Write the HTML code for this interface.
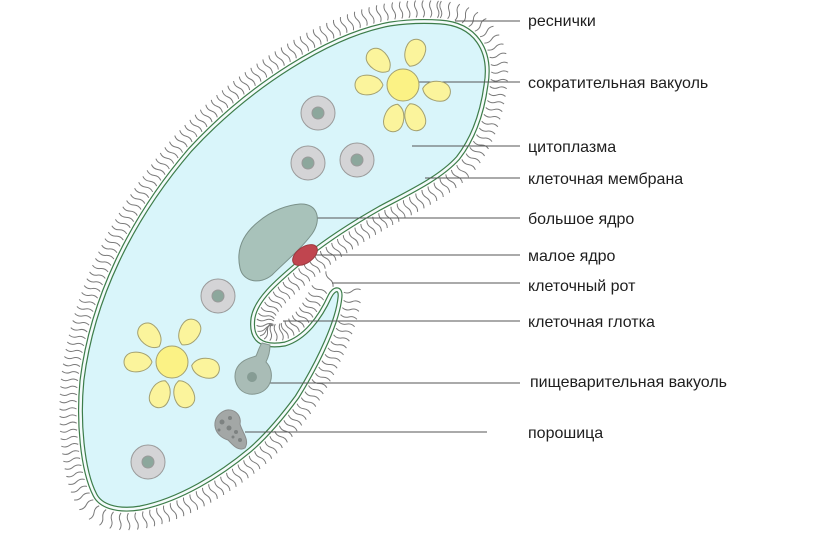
<!DOCTYPE html>
<html><head><meta charset="utf-8"><style>
html,body{margin:0;padding:0;background:#fff;}
svg{display:block}
text{font-family:"Liberation Sans",sans-serif;font-size:16px;fill:#1e1e1e}
</style></head><body>
<svg id="s" width="826" height="546" viewBox="0 0 826 546">
<g id="cil" stroke="#7a7a7a" stroke-width="1" fill="none"></g>
<path id="body" d="M 440,22 C 475,24 492,50 486,85 C 482,115 472,140 458,158 C 440,178 410,192 380,208 C 350,225 320,245 300,262 C 275,283 256,300 253,318 C 250,340 262,348 285,344 C 305,338 320,318 330,296 C 334,288 341,287 340,297 C 338,320 320,360 297,397 C 280,420 265,437 250,450 C 220,475 180,500 140,508 C 115,512 100,505 95,495 C 82,470 78,420 82,380 C 92,300 130,220 190,150 C 250,85 330,35 390,24 C 410,21 425,21 440,22 Z" fill="#d9f5fa" stroke="#3d7d4a" stroke-width="5"/>
<path d="M 440,22 C 475,24 492,50 486,85 C 482,115 472,140 458,158 C 440,178 410,192 380,208 C 350,225 320,245 300,262 C 275,283 256,300 253,318 C 250,340 262,348 285,344 C 305,338 320,318 330,296 C 334,288 341,287 340,297 C 338,320 320,360 297,397 C 280,420 265,437 250,450 C 220,475 180,500 140,508 C 115,512 100,505 95,495 C 82,470 78,420 82,380 C 92,300 130,220 190,150 C 250,85 330,35 390,24 C 410,21 425,21 440,22 Z" fill="none" stroke="#f4fbfb" stroke-width="2.6"/>
<g stroke="#555" stroke-width="1">
<line x1="455" y1="21" x2="520" y2="21"/>
<line x1="415" y1="82" x2="520" y2="82"/>
<line x1="412" y1="146" x2="520" y2="146"/>
<line x1="425" y1="178" x2="520" y2="178"/>
<line x1="315" y1="218" x2="520" y2="218"/>
<line x1="312" y1="255" x2="520" y2="255"/>
<line x1="332" y1="283" x2="520" y2="283"/>
<line x1="283" y1="321" x2="520" y2="321"/>
<line x1="265" y1="383" x2="520" y2="383"/>
<line x1="245" y1="432" x2="487" y2="432"/>
</g>
<g stroke="#9a9a9a" stroke-width="1">
<circle cx="318" cy="113" r="17" fill="#d4d4d6"/><circle cx="318" cy="113" r="6" fill="#8ca79c"/>
<circle cx="308" cy="163" r="17" fill="#d4d4d6"/><circle cx="308" cy="163" r="6" fill="#8ca79c"/>
<circle cx="357" cy="160" r="17" fill="#d4d4d6"/><circle cx="357" cy="160" r="6" fill="#8ca79c"/>
<circle cx="218" cy="296" r="17" fill="#d4d4d6"/><circle cx="218" cy="296" r="6" fill="#8ca79c"/>
<circle cx="148" cy="462" r="17" fill="#d4d4d6"/><circle cx="148" cy="462" r="6" fill="#8ca79c"/>
</g>
<path d="M 300,204 C 318,203 322,220 312,234 C 300,250 285,262 272,275 C 260,285 243,282 240,268 C 236,250 242,235 258,222 C 272,210 288,205 300,204 Z" fill="#a8c2ba" stroke="#7b918a"/>
<ellipse cx="305" cy="255" rx="14" ry="8" transform="rotate(-35 305 255)" fill="#c0454f" stroke="#9b3a40"/>
<path d="M 262,343 L 270,345 C 270,352 268,358 266,362 C 276,372 272,392 255,394 C 240,396 232,382 236,370 C 240,360 250,358 256,356 C 258,352 259,347 262,343 Z" fill="#a9bcb6" stroke="#84968f"/>
<circle cx="252" cy="377" r="5" fill="#869c94"/>
<path d="M 222,412 C 232,406 242,414 240,424 C 242,432 250,440 245,448 C 238,452 232,444 228,440 C 214,436 210,420 222,412 Z" fill="#a3a7a6" stroke="#8a8d8c"/>
<g fill="#7d8281"><circle cx="222" cy="422" r="2.5"/><circle cx="230" cy="418" r="2"/><circle cx="229" cy="428" r="2.5"/><circle cx="236" cy="432" r="2"/><circle cx="240" cy="440" r="2"/><circle cx="219" cy="430" r="1.5"/><circle cx="233" cy="437" r="1.5"/></g>
<g id="v1"></g><g id="v2"></g>
<text x="528" y="26">реснички</text>
<text x="528" y="88">сократительная вакуоль</text>
<text x="528" y="152">цитоплазма</text>
<text x="528" y="184">клеточная мембрана</text>
<text x="528" y="224">большое ядро</text>
<text x="528" y="261">малое ядро</text>
<text x="528" y="291">клеточный рот</text>
<text x="528" y="327">клеточная глотка</text>
<text x="530" y="387">пищеварительная вакуоль</text>
<text x="528" y="438">порошица</text>
</svg>
<script>
var NS="http://www.w3.org/2000/svg";
var body=document.getElementById('body'),cil=document.getElementById('cil');
var L=body.getTotalLength();
function inside(x,y){var p=document.getElementById('s').createSVGPoint();p.x=x;p.y=y;return body.isPointInFill(p);}
for(var s=0;s<L;s+=7){
 var a=body.getPointAtLength(s),b=body.getPointAtLength(Math.min(L,s+1));
 var dx=b.x-a.x,dy=b.y-a.y,d=Math.hypot(dx,dy)||1;dx/=d;dy/=d;
 var nx=-dy,ny=dx;
 if(inside(a.x+nx*6,a.y+ny*6)){nx=-nx;ny=-ny;}
 if(inside(a.x+nx*6,a.y+ny*6))continue;
 var len=17, x0=a.x+nx*4,y0=a.y+ny*4, x1=a.x+nx*(4+len),y1=a.y+ny*(4+len);
 var mx=(x0+x1)/2,my=(y0+y1)/2;
 var c1x=x0+nx*len*0.25+dx*2.5,c1y=y0+ny*len*0.25+dy*2.5,c2x=mx+nx*len*0.25-dx*2.5,c2y=my+ny*len*0.25-dy*2.5;
 var p=document.createElementNS(NS,'path');
 p.setAttribute('d','M'+x0+','+y0+' Q'+c1x+','+c1y+' '+mx+','+my+' Q'+c2x+','+c2y+' '+x1+','+y1);
 cil.appendChild(p);
}
function vac(g,cx,cy,angs){
 g=document.getElementById(g);
 angs.forEach(function(an){
  var r=an*Math.PI/180,ca=Math.cos(r),sa=Math.sin(r);
  function P(u,v){return (cx+ca*u-sa*v).toFixed(1)+','+(cy+sa*u+ca*v).toFixed(1);}
  var p=document.createElementNS(NS,'path');
  p.setAttribute('d','M'+P(20,0)+' C'+P(24,-11)+' '+P(40,-12)+' '+P(45,-7)+' C'+P(49,-3)+' '+P(49,3)+' '+P(45,7)+' C'+P(40,12)+' '+P(24,11)+' '+P(20,0)+'Z');
  p.setAttribute('fill','#fbf49c');p.setAttribute('stroke','#a3a070');g.appendChild(p);
 });
 var c=document.createElementNS(NS,'circle');c.setAttribute('cx',cx);c.setAttribute('cy',cy);c.setAttribute('r',16);
 c.setAttribute('fill','#fbf285');c.setAttribute('stroke','#a3a070');g.appendChild(c);
}
vac('v1',403,85,[-135,-70,10,70,105,180]);
vac('v2',172,362,[-130,-60,10,70,110,180]);
</script>
</body></html>
